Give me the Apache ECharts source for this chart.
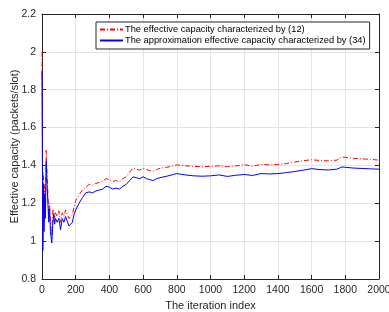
<!DOCTYPE html>
<html><head><meta charset="utf-8">
<script src="https://cdn.jsdelivr.net/npm/echarts@6/dist/echarts.min.js"></script>
<style>html,body{margin:0;padding:0;background:#fff}#c{width:389px;height:312px}</style>
</head><body><div id="c"></div>
<script>
var iterations = [0,2,5,8,12,16,20,25,30,35,40,45,50,58,65,70,75,80,90,100,110,120,130,140,150,160,170,180,190,200,220,240,260,280,300,320,340,360,380,400,420,440,460,480,500,520,540,560,580,600,620,640,660,680,700,740,780,800,850,900,950,1000,1050,1100,1150,1200,1250,1300,1350,1400,1450,1500,1550,1600,1650,1700,1750,1780,1800,1850,1900,1950,2000];
var effCap12 = [2.00,1.60,1.00,1.36,1.10,1.30,1.16,1.48,1.35,1.25,1.14,1.20,1.09,1.03,1.17,1.16,1.12,1.15,1.13,1.16,1.10,1.15,1.13,1.165,1.155,1.12,1.11,1.14,1.18,1.215,1.245,1.27,1.285,1.30,1.295,1.305,1.31,1.318,1.33,1.325,1.315,1.32,1.315,1.33,1.34,1.365,1.385,1.38,1.375,1.385,1.378,1.372,1.37,1.378,1.385,1.39,1.398,1.403,1.398,1.395,1.393,1.395,1.398,1.393,1.398,1.404,1.396,1.405,1.403,1.405,1.41,1.418,1.425,1.43,1.426,1.424,1.428,1.445,1.443,1.437,1.435,1.432,1.428];
var approxCap34 = [1.90,1.50,0.95,1.30,1.05,1.25,1.12,1.42,1.30,1.20,1.10,1.17,1.05,0.99,1.10,1.14,1.09,1.12,1.10,1.12,1.06,1.12,1.10,1.13,1.12,1.08,1.07,1.10,1.14,1.165,1.20,1.23,1.255,1.26,1.255,1.265,1.27,1.275,1.29,1.285,1.275,1.28,1.275,1.29,1.30,1.32,1.34,1.335,1.33,1.34,1.33,1.325,1.32,1.33,1.335,1.343,1.352,1.357,1.35,1.345,1.343,1.345,1.35,1.342,1.348,1.352,1.347,1.357,1.355,1.357,1.362,1.368,1.375,1.383,1.378,1.376,1.38,1.392,1.39,1.386,1.384,1.382,1.38];
var xTicks = ['0','200','400','600','800','1000','1200','1400','1600','1800','2000'];
var yTicks = ['0.8','1','1.2','1.4','1.6','1.8','2','2.2'];
var seriesNames = ['The effective capacity characterized by (12)','The approximation effective capacity characterized by (34)'];

function pairs(xs, ys){ return xs.map(function(x,i){return [x, ys[i]];}); }
var axisCol = '#262626';
var font = 'Liberation Sans, Arial, sans-serif';
var chart = echarts.init(document.getElementById('c'));
var xBase = {type:'value', min:0, max:2000, interval:200,
  axisLine:{show:true,onZero:false,lineStyle:{color:axisCol,width:1}},
  axisTick:{show:true,inside:true,length:4,lineStyle:{color:axisCol}}};
var yBase = {type:'value', min:0.8, max:2.2, interval:0.2,
  axisLine:{show:true,onZero:false,lineStyle:{color:axisCol,width:1}},
  axisTick:{show:true,inside:true,length:4,lineStyle:{color:axisCol}}};
chart.setOption({
  animation:false,
  backgroundColor:'#fff',
  grid:{left:42,right:10,top:14,bottom:33,containLabel:false,outerBoundsMode:'none'},
  textStyle:{fontFamily:font},
  legend:{
    orient:'vertical', left:96, top:22, width:273,
    backgroundColor:'#fff', borderColor:axisCol, borderWidth:1, borderRadius:0,
    padding:[3,4,4,3], itemGap:2, itemWidth:23, itemHeight:10,
    itemStyle:{opacity:0},
    textStyle:{fontSize:9.3, color:'#000', fontFamily:font, padding:[0,0,0,-3]},
    data:seriesNames
  },
  xAxis:[
    Object.assign({}, xBase, {position:'bottom',
      name:'The iteration index', nameLocation:'middle', nameGap:21, nameMoveOverlap:false,
      nameTextStyle:{fontSize:11,color:axisCol,fontFamily:font},
      axisLabel:{fontSize:10.5,color:axisCol,margin:6,fontFamily:font,formatter:function(v){return xTicks[Math.round(v/200)];}},
      splitLine:{show:true,lineStyle:{color:'#e3e3e3',width:1}}}),
    Object.assign({}, xBase, {position:'top', axisLabel:{show:false}, splitLine:{show:false}})
  ],
  yAxis:[
    Object.assign({}, yBase, {position:'left',
      name:'Effective capacity (packets/slot)', nameLocation:'middle', nameGap:22, nameMoveOverlap:false,
      nameTextStyle:{fontSize:11,color:axisCol,fontFamily:font},
      axisLabel:{fontSize:10.5,color:axisCol,margin:6,fontFamily:font,formatter:function(v){return yTicks[Math.round((v-0.8)/0.2)];}},
      splitLine:{show:true,lineStyle:{color:'#e3e3e3',width:1}}}),
    Object.assign({}, yBase, {position:'right', axisLabel:{show:false}, splitLine:{show:false}})
  ],
  series:[
    {name:seriesNames[0], type:'line', xAxisIndex:0, yAxisIndex:0, data:pairs(iterations, effCap12),
     symbol:'none', lineStyle:{color:'#ff0000',width:1,type:[5,2,1,2]}, itemStyle:{color:'#ff0000'}},
    {name:seriesNames[1], type:'line', xAxisIndex:0, yAxisIndex:0, data:pairs(iterations, approxCap34),
     symbol:'none', lineStyle:{color:'#0000ff',width:1,type:'solid'}, itemStyle:{color:'#0000ff'}}
  ]
});
</script></body></html>
